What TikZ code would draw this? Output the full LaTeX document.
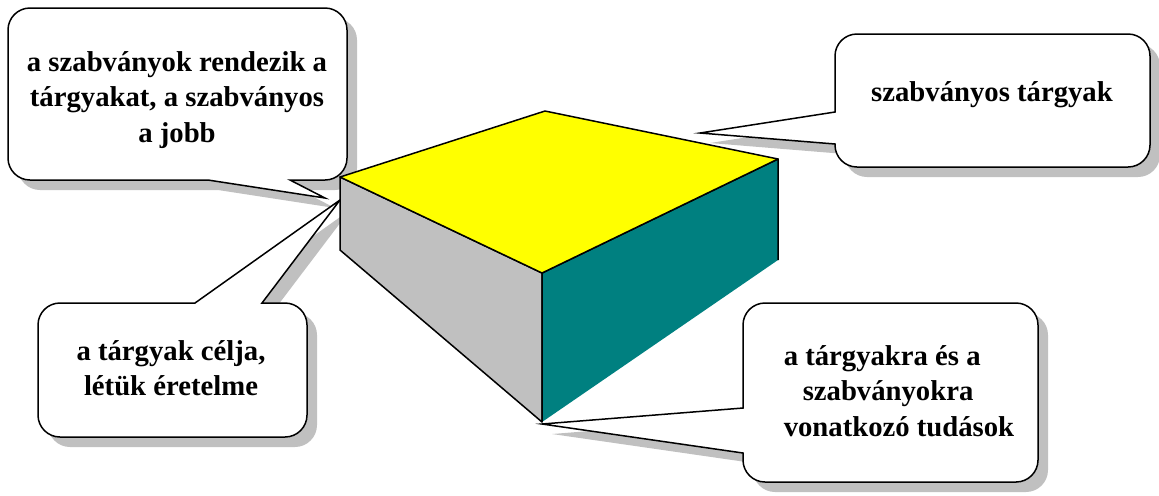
\documentclass[tikz,border=0pt]{standalone}
\usepackage{fontspec}
\setmainfont{Liberation Serif}
\usetikzlibrary{shadows}
\definecolor{faceyellow}{RGB}{255,255,0}
\definecolor{faceteal}{RGB}{0,128,128}
\definecolor{facegray}{RGB}{192,192,192}
\definecolor{shadowgray}{RGB}{192,192,192}

\begin{document}
\begin{tikzpicture}[x=0.5pt,y=-0.5pt,line width=0.75pt,
  font=\bfseries\fontsize{14.35}{17.6}\selectfont,
  bubble/.style={draw=black,fill=white,rounded corners=11pt,
    drop shadow={shadow xshift=5pt,shadow yshift=-5pt,fill=shadowgray,opacity=1}},
  face/.style={draw=black,line join=round},
  txt/.style={inner sep=0pt,align=center}]
  \useasboundingbox (0,0) rectangle (1159,495);
  % corners of the block
  \foreach \n/\x/\y in {topB/545/111,topL/340/177,topR/778/159,topF/542/273,
                        botL/340/250,botF/542/422,botR/778/260}
    \coordinate (\n) at (\x,\y);
  % tips of the callouts
  \foreach \n/\x/\y in {tipTL/325/198,tipTR/700/133,tipBL/340/200,tipBR/542/424}
    \coordinate (\n) at (\x,\y);

  % callouts
  \draw[bubble] (208,180) -- (8,180) -- (8,8) -- (347,8) -- (347,180)
    [sharp corners] -- (290,180) -- (tipTL) -- cycle;
  \draw[bubble] (835,112) -- (835,34) -- (1150,34) -- (1150,167) -- (835,167)
    [sharp corners] -- (835,144) -- (tipTR) -- cycle;
  \draw[bubble] (262,303) -- (307,303) -- (307,437) -- (38,437) -- (38,303)
    [sharp corners] -- (195,303) -- (tipBL) -- cycle;
  \draw[bubble] (743,453) -- (743,482) -- (1038,482) -- (1038,303) -- (743,303)
    [sharp corners] -- (743,408) -- (tipBR) -- cycle;

  % block
  \draw[face,fill=facegray] (topL) -- (topF) -- (botF) -- (botL) -- cycle;
  \fill[faceteal] (topF) -- (topR) -- (botR) -- (botF) -- cycle;
  \draw[face] (botF) -- (topF) -- (topR) -- (botR);
  \draw[face,fill=faceyellow] (topL) -- (topB) -- (topR) -- (topF) -- cycle;

  \node[txt] (labTL) at (177,100) {a szabványok rendezik a\\tárgyakat, a szabványos\\a jobb};
  \node[txt] (labTR) at (992,95) {szabványos tárgyak};
  \node[txt] (labBL) at (171,368) {a tárgyak célja,\\létük éretelme};
  \node[txt,align=left,anchor=west] (labBR) at (783,391)
    {a tárgyakra és a\\\hspace*{9.5pt}szabványokra\\vonatkozó tudások};
\end{tikzpicture}
\end{document}
